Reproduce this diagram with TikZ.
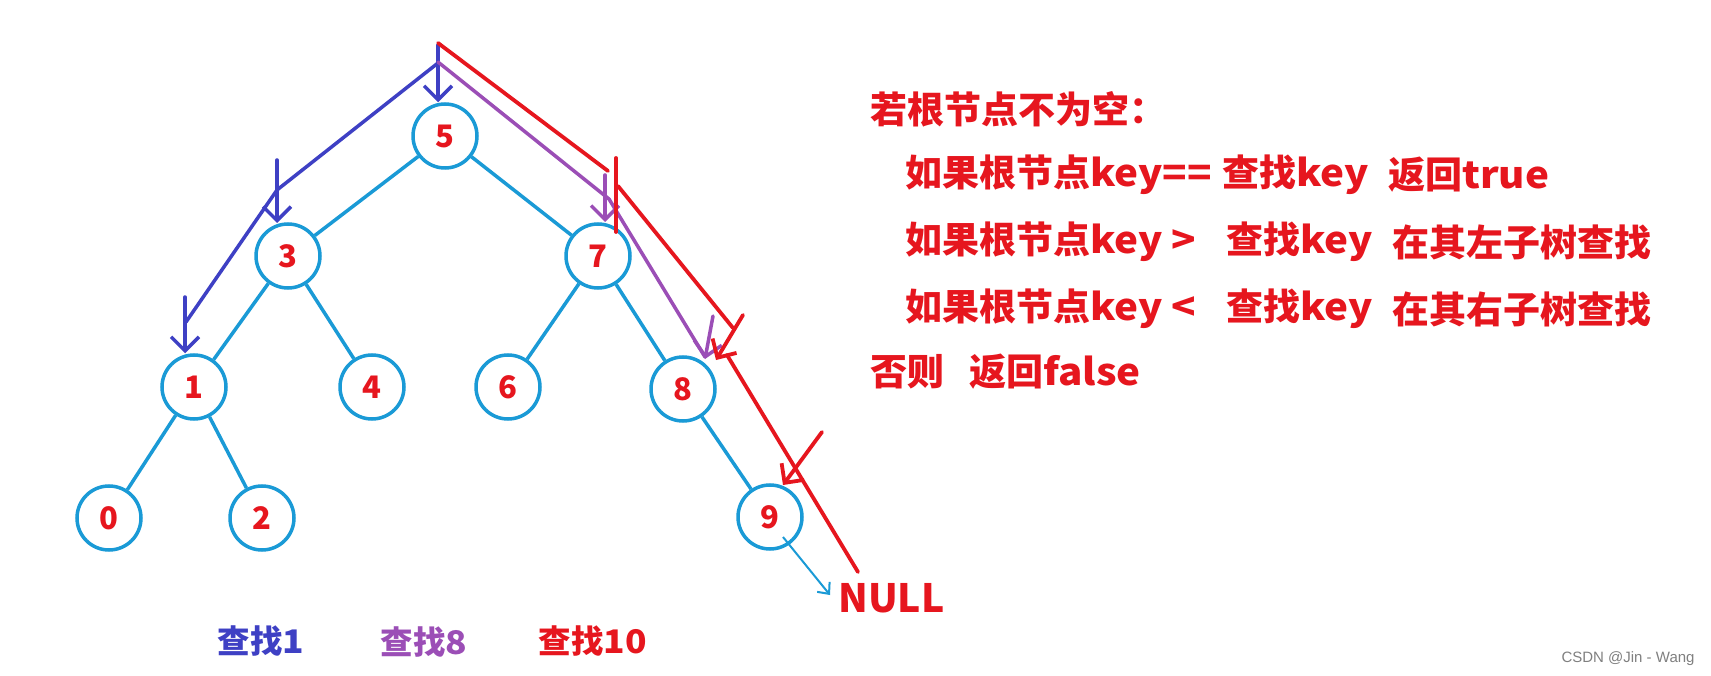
\documentclass[tikz,border=0pt]{standalone}
\usepackage{fontspec}
\usetikzlibrary{arrows.meta}
\newfontfamily\cjk{Noto Sans CJK SC}
\newfontfamily\cjklat{Noto Sans CJK SC}[FakeStretch=1.09]
\newfontfamily\wmfont{Liberation Sans}
\newcommand{\lat}[1]{{\cjklat\bfseries #1}}
\definecolor{nodeblue}{RGB}{26,154,214}
\definecolor{tred}{RGB}{230,22,30}
\definecolor{pblue}{RGB}{62,64,196}
\definecolor{ppurple}{RGB}{155,78,182}
\tikzset{
  tn/.style={circle, draw=nodeblue, line width=3.5pt, minimum size=64pt, inner sep=0pt,
    font=\cjk\bfseries\fontsize{31}{31}\selectfont, text=tred},
  treeedge/.style={draw=nodeblue, line width=3.5pt},
  bluepath/.style={draw=pblue, line width=3.5pt, line cap=round, line join=round},
  purplepath/.style={draw=ppurple, line width=3.5pt, line cap=round, line join=round},
  redpath/.style={draw=tred, line width=3.8pt, line cap=round, line join=round},
  barb/.style={-{Straight Barb[length=14pt,width=28pt]}},
  smallbarb/.style={-{Straight Barb[length=9pt,width=16pt]}},
  rtxt/.style={anchor=west, inner sep=0pt, text=tred, font=\cjk\bfseries\fontsize{37}{40}\selectfont},
  lbl/.style={inner sep=0pt, font=\cjk\bfseries\fontsize{32.5}{33}\selectfont}
}
\begin{document}
\begin{tikzpicture}[x=1pt,y=-1pt]
\useasboundingbox[fill=white] (0,0) rectangle (1711,676);

% tree nodes
\node[tn] (n5) at (445,136) {5};
\node[tn] (n3) at (288,256) {3};
\node[tn] (n7) at (598,256) {7};
\node[tn] (n1) at (194,387) {1};
\node[tn] (n4) at (372,387) {4};
\node[tn] (n6) at (508,387) {6};
\node[tn] (n8) at (683,389) {8};
\node[tn] (n0) at (109,518) {0};
\node[tn] (n2) at (262,518) {2};
\node[tn] (n9) at (770,517) {9};

\draw[treeedge] (n5) -- (n3);
\draw[treeedge] (n5) -- (n7);
\draw[treeedge] (n3) -- (n1);
\draw[treeedge] (n3) -- (n4);
\draw[treeedge] (n7) -- (n6);
\draw[treeedge] (n7) -- (n8);
\draw[treeedge] (n1) -- (n0);
\draw[treeedge] (n1) -- (n2);
\draw[treeedge] (n8) -- (n9);

% NULL
\node[anchor=west, inner sep=0pt, text=tred, font=\cjk\bfseries\fontsize{39}{39}\selectfont] (null) at (838,598) {NULL};
\coordinate (n9out) at (783,537);
\coordinate (nullin) at (830,595);
\draw[draw=nodeblue, line width=2pt, smallbarb] (n9out) -- (nullin);

% blue search path (find 1)
\coordinate (b0) at (438,45);
\coordinate (b1) at (438,63);
\coordinate (b2) at (277,190);
\coordinate (b3) at (186,322);
\coordinate (b3a) at (277,160);
\coordinate (b1a) at (185,297);
\draw[bluepath, barb] (b0) -- (b0 |- n5.north);
\draw[bluepath] (b1) -- (b2) -- (b3);
\draw[bluepath, barb] (b3a) -- (277,223);
\draw[bluepath, barb] (b1a) -- (b1a |- n1.north);

% purple search path (find 8)
\coordinate (p1) at (438,62);
\coordinate (p2) at (609,199);
\coordinate (p3) at (705,357);
\coordinate (p7a) at (605,175);
\coordinate (p8a) at (713,316);
\draw[purplepath] (p1) -- (p2) -- (p3);
\draw[purplepath, barb] (p7a) -- (605,222);
\draw[purplepath, barb] (p8a) -- (705,359);

% red search path (find 10)
\coordinate (r0) at (438,43);
\coordinate (r1) at (608,171);
\coordinate (r2) at (618,186);
\coordinate (r3) at (733,328);
\coordinate (r4) at (727,355);
\coordinate (r5) at (858,572);
\draw[redpath] (r0) -- (r1);
\draw[redpath] (616,158) -- (616,232);
\draw[redpath] (r2) -- (r3);
\draw[redpath, barb] (743,315) -- (716,360);
\draw[redpath] (r4) -- (r5);
\draw[redpath, barb] (822,432) -- (783,485);

% right-hand text
\node[rtxt] (t1) at (870,109) {若根节点不为空：};
\node[rtxt] (t2a) at (905,175) {如果根节点\lat{key==}};
\node[rtxt] (t2b) at (1222,175) {查找\lat{key}};
\node[rtxt] (t2c) at (1388,175) {返回\lat{true}};
\node[rtxt] (t3a) at (905,242) {如果根节点\lat{key >}};
\node[rtxt] (t3b) at (1226,242) {查找\lat{key}};
\node[rtxt] (t3c) at (1392,242) {在其左子树查找};
\node[rtxt] (t4a) at (905,309) {如果根节点\lat{key <}};
\node[rtxt] (t4b) at (1226,309) {查找\lat{key}};
\node[rtxt] (t4c) at (1392,309) {在其右子树查找};
\node[rtxt] (t5a) at (870,372) {否则};
\node[rtxt] (t5b) at (969,372) {返回\lat{false}};

% legend
\node[lbl, text=pblue] (l1) at (261,641) {查找\lat{1}};
\node[lbl, text=ppurple] (l2) at (424,642) {查找\lat{8}};
\node[lbl, text=tred] (l3) at (593,641) {查找\lat{10}};

% watermark
\node[inner sep=0pt, text=black!50, font=\wmfont\fontsize{15}{15}\selectfont] (wm) at (1628,659) {CSDN @Jin - Wang};
\end{tikzpicture}
\end{document}
